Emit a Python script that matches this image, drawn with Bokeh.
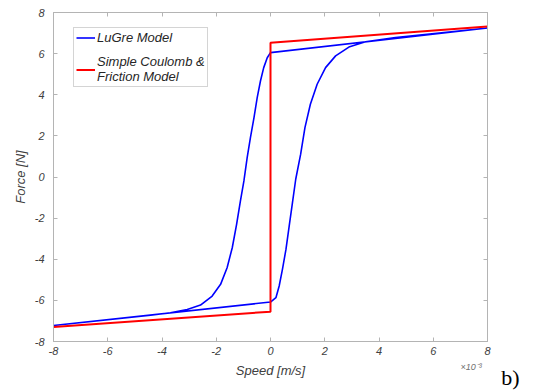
from bokeh.plotting import figure
from bokeh.models import (Range1d, LinearAxis, FixedTicker, Legend, LegendItem, Label)
from bokeh.embed import file_html
from bokeh.resources import INLINE

# ---- data (speed in units of 1e-3 m/s, force in N) ----
coulomb_speed = [-8, 0, 0, 8]
coulomb_force = [-7.3, -6.55, 6.53, 7.32]

lugre_speed = [-8, 0,
               0.20, 0.32, 0.44, 0.57, 0.69, 0.81, 0.93, 1.11, 1.27, 1.47, 1.72, 2.03,
               2.40, 2.89, 3.50, 4.61,
               8, 0,
               -0.12, -0.25, -0.37, -0.49, -0.61, -0.74, -0.86, -0.98, -1.11, -1.25,
               -1.41, -1.60, -1.84, -2.15, -2.58, -3.07, -3.69, -4.42,
               -8]
lugre_force = [-7.22, -6.08,
               -5.87, -5.30, -4.49, -3.52, -2.38, -1.25, -0.11, 1.10, 2.40, 3.54, 4.51, 5.32,
               5.89, 6.32, 6.58, 6.78,
               7.25, 6.05,
               5.80, 5.32, 4.67, 3.86, 2.88, 1.91, 0.94, -0.19, -1.17, -2.30,
               -3.44, -4.41, -5.22, -5.79, -6.23, -6.44, -6.60, -6.72,
               -7.22]

ticks = [-8, -6, -4, -2, 0, 2, 4, 6, 8]
tick_labels = {t: str(t) for t in ticks}

FONT = "Liberation Sans"
TXT = "#404040"
FRAME = "#b4b4b4"

p = figure(width=533, height=390, output_backend="svg", toolbar_location=None,
           x_range=Range1d(-8, 8), y_range=Range1d(-8, 8),
           min_border_left=53, min_border_right=46, min_border_top=12, min_border_bottom=49,
           x_axis_label="Speed [m/s]", y_axis_label="Force [N]")
p.grid.visible = False
p.outline_line_color = FRAME
p.background_fill_color = "white"
p.border_fill_color = "white"

for ax in (p.xaxis[0], p.yaxis[0]):
    ax.ticker = FixedTicker(ticks=ticks)
    ax.major_label_overrides = tick_labels
    ax.minor_tick_line_color = None
    ax.major_tick_in = 4
    ax.major_tick_out = 0
    ax.axis_line_color = FRAME
    ax.major_tick_line_color = FRAME
    ax.major_label_text_font = FONT
    ax.major_label_text_font_style = "italic"
    ax.major_label_text_font_size = "11px"
    ax.major_label_text_color = TXT
    ax.axis_label_text_font = FONT
    ax.axis_label_text_font_style = "italic"
    ax.axis_label_text_font_size = "13px"
    ax.axis_label_text_color = TXT

p.xaxis[0].major_label_standoff = 5
p.xaxis[0].axis_label_standoff = 5
p.yaxis[0].major_label_standoff = 9
p.yaxis[0].axis_label_standoff = 4

# tick marks on the top and right edges of the box (no labels)
for loc in ("above", "right"):
    ax = LinearAxis(ticker=FixedTicker(ticks=ticks))
    ax.major_label_overrides = {t: "" for t in ticks}
    ax.major_label_text_font_size = "1px"
    ax.major_label_standoff = 0
    ax.minor_tick_line_color = None
    ax.major_tick_in = 4
    ax.major_tick_out = 0
    ax.axis_line_color = FRAME
    ax.major_tick_line_color = FRAME
    p.add_layout(ax, loc)

r_lugre = p.line(lugre_speed, lugre_force, line_color="#0000ff", line_width=1.6)
r_coul = p.line(coulomb_speed, coulomb_force, line_color="#ff0000", line_width=2)

legend = Legend(items=[LegendItem(label="LuGre Model", renderers=[r_lugre]),
                       LegendItem(label="Simple Coulomb &\nFriction Model", renderers=[r_coul])],
                location=(20, 254))
legend.label_text_font = FONT
legend.label_text_font_style = "italic"
legend.label_text_font_size = "13px"
legend.label_text_line_height = 1.1
legend.label_text_color = "#262626"
legend.glyph_width = 19
legend.glyph_height = 15
legend.label_height = 15
legend.label_standoff = 2
legend.padding = 2
legend.spacing = 9
legend.border_line_color = "#aaaaaa"
legend.background_fill_alpha = 1
p.add_layout(legend, "center")

# texts outside the frame live in the right side panel (not clipped there)
p.add_layout(Label(x=13.7, y=-36, x_units="screen", y_units="screen", text="b)",
                   text_font="Liberation Serif", text_font_size="22px",
                   text_color="black", text_align="left", text_baseline="middle"),
             "right")
p.add_layout(Label(x=-45, y=-25, x_units="screen", y_units="screen", text="×10⁻³",
                   text_font=FONT, text_font_style="italic", text_font_size="9px",
                   text_color="#707070", text_align="left", text_baseline="middle"),
             "right")

open("out.html", "w").write(file_html(p, INLINE))
